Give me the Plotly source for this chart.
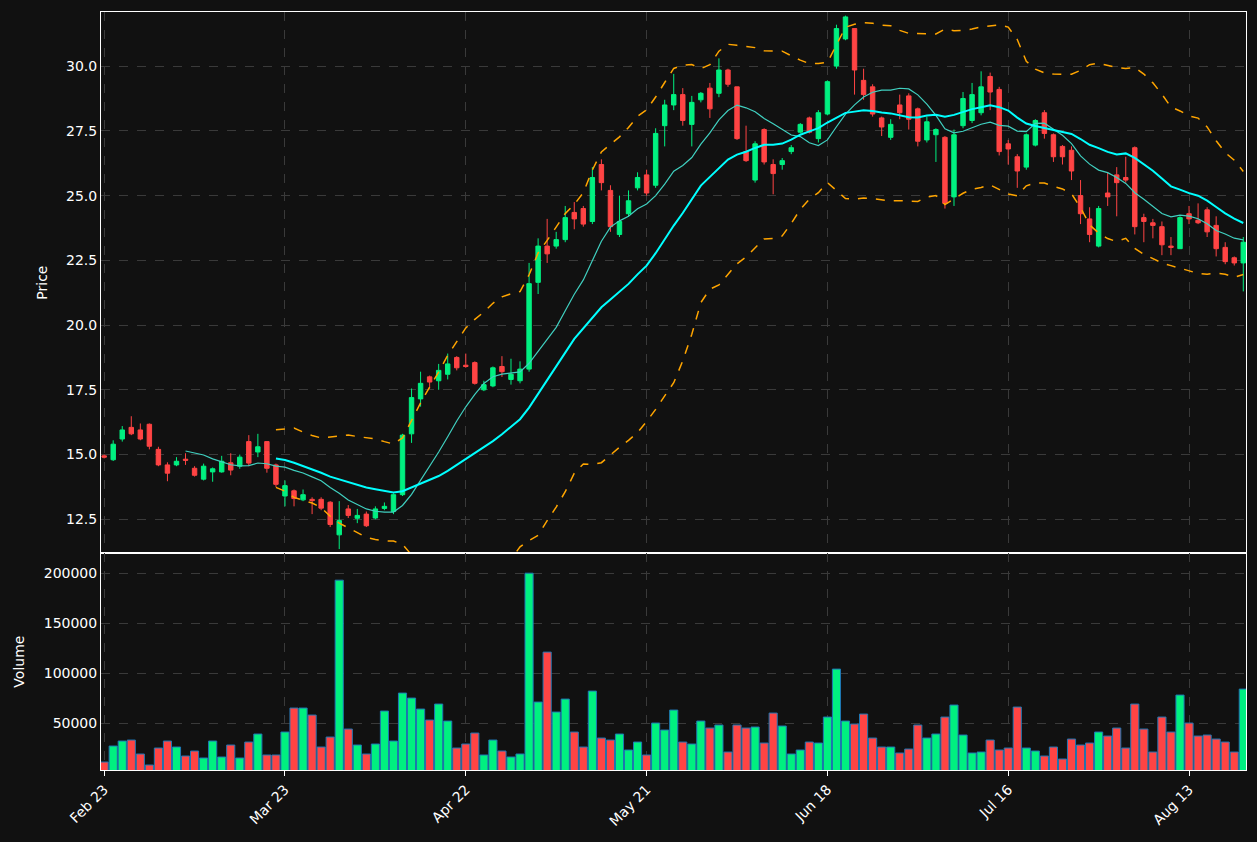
import pandas as pd
import plotly.graph_objects as go
from plotly.subplots import make_subplots

opens = [14.95, 14.8, 15.6, 16.05, 15.95, 16.17, 15.2, 14.6, 14.6, 14.82,
         14.47, 14.05, 14.33, 14.33, 14.68, 14.55, 15.5, 15.1, 15.5, 14.6,
         13.4, 13.6, 13.25, 13.27, 13.27, 13.16, 11.9, 12.9, 12.54, 12.7,
         12.55, 12.92, 12.8, 13.45, 15.8, 17.15, 18.0, 17.85, 18.1, 18.75,
         18.45, 18.55, 17.5, 17.65, 18.4, 17.9, 17.85, 18.3, 21.65, 23.05,
         23.05, 23.3, 24.35, 24.5, 24.0, 26.2, 25.2, 23.5, 24.3, 25.3,
         25.8, 25.4, 27.7, 28.5, 28.9, 27.75, 28.7, 29.15, 28.95, 29.85,
         29.2, 26.7, 25.6, 27.55, 26.2, 26.2, 26.7, 27.45, 28.0, 27.2,
         28.15, 30.0, 31.05, 31.45, 29.45, 29.2, 28.0, 27.25, 28.5, 28.85,
         28.35, 27.15, 27.35, 27.25, 24.95, 27.7, 27.9, 28.2, 29.6, 29.1,
         27.0, 26.5, 26.1, 26.95, 28.2, 27.35, 26.9, 26.75, 25.0, 24.1,
         23.05, 25.1, 25.8, 25.7, 26.85, 24.15, 23.95, 23.8, 23.05, 22.95,
         24.3, 24.05, 24.45, 23.85, 23.0, 22.6, 22.4]
closes = [14.9, 15.4, 15.95, 15.8, 15.6, 15.32, 14.6, 14.28, 14.74, 14.78,
          14.2, 14.55, 14.45, 14.74, 14.4, 14.9, 14.67, 15.3, 14.47, 13.85,
          13.8, 13.3, 13.45, 13.22, 12.93, 12.3, 12.45, 12.65, 12.65, 12.25,
          12.9, 13.0, 13.45, 15.75, 17.2, 17.75, 17.8, 18.25, 18.5, 18.35,
          18.4, 17.75, 17.7, 18.35, 18.2, 18.1, 18.3, 21.6, 23.05, 22.75,
          23.3, 24.15, 24.1, 23.9, 25.7, 25.5, 23.8, 24.0, 24.8, 25.7,
          25.1, 27.4, 28.5, 28.9, 27.9, 28.6, 28.95, 28.35, 29.85, 29.3,
          27.2, 26.35, 27.0, 26.3, 25.85, 26.35, 26.85, 27.75, 27.45, 28.2,
          29.4, 31.45, 31.9, 29.85, 28.9, 28.15, 27.65, 27.75, 28.2, 27.95,
          27.1, 27.85, 27.55, 24.7, 27.35, 28.75, 28.9, 29.2, 29.0, 26.7,
          26.8, 25.95, 27.35, 27.9, 27.4, 26.5, 26.5, 25.95, 24.3, 23.5,
          24.5, 24.95, 25.5, 25.6, 23.8, 24.0, 23.85, 23.1, 23.0, 24.15,
          24.1, 23.95, 23.6, 22.95, 22.45, 22.4, 23.2]
highs = [15.0, 15.55, 16.1, 16.48, 16.2, 16.2, 15.3, 14.7, 14.9, 15.05,
         14.55, 14.65, 14.5, 14.95, 15.05, 15.0, 15.75, 15.8, 15.5, 14.65,
         14.0, 13.65, 13.65, 13.35, 13.35, 13.2, 13.2, 13.05, 12.9, 12.8,
         13.0, 13.15, 13.5, 15.8, 17.55, 18.2, 18.05, 18.5, 18.9, 18.8,
         18.9, 18.6, 17.85, 18.4, 18.8, 18.7, 18.6, 22.4, 23.35, 24.1,
         23.6, 24.6, 24.75, 24.6, 26.1, 26.4, 25.4, 25.0, 25.2, 25.9,
         26.0, 27.6, 28.7, 29.7, 29.15, 28.85, 29.0, 29.35, 30.3, 29.9,
         29.2, 27.7, 27.1, 27.6, 26.4, 26.45, 26.95, 27.8, 28.05, 28.3,
         29.45, 31.6, 31.95, 31.45, 29.9, 29.3, 28.05, 27.95, 28.9, 28.95,
         28.4, 28.05, 27.6, 27.3, 27.55, 29.0, 29.35, 29.8, 29.75, 29.2,
         27.15, 26.6, 27.4, 27.95, 28.3, 27.4, 26.95, 26.9, 25.6, 24.55,
         24.6, 25.9, 26.1, 26.5, 26.9, 24.3, 24.1, 24.0, 23.4, 24.2,
         24.6, 24.7, 24.55, 24.2, 23.2, 22.65, 23.4]
lows = [14.85, 14.75, 15.5, 15.75, 15.55, 15.2, 14.55, 13.97, 14.55, 14.6,
        14.15, 14.0, 13.95, 14.3, 14.2, 14.45, 14.55, 14.9, 14.3, 13.75,
        13.0, 13.0, 13.2, 12.7, 12.85, 12.2, 11.35, 12.55, 12.35, 12.2,
        12.5, 12.85, 12.7, 13.4, 15.45, 16.85, 17.55, 17.5, 17.9, 18.25,
        18.35, 17.7, 17.45, 17.6, 18.0, 17.7, 17.75, 18.2, 21.2, 22.4,
        22.95, 23.2, 23.7, 23.8, 23.9, 25.2, 23.6, 23.4, 24.2, 25.2,
        25.0, 25.3, 26.9, 28.3, 27.7, 26.9, 28.6, 28.0, 28.8, 29.2,
        27.15, 26.3, 25.5, 26.2, 25.05, 26.0, 26.6, 27.4, 27.4, 27.05,
        28.1, 29.9, 31.0, 28.9, 28.7, 28.05, 27.3, 27.15, 27.95, 27.55,
        26.9, 27.05, 26.3, 24.5, 24.6, 27.6, 27.8, 28.1, 28.3, 26.55,
        26.2, 25.3, 26.0, 26.9, 27.2, 26.3, 26.2, 25.6, 23.9, 23.2,
        23.0, 24.6, 24.2, 25.5, 23.5, 23.2, 23.35, 22.7, 22.7, 22.95,
        23.9, 23.9, 23.4, 22.65, 22.35, 22.3, 21.3]
volumes = [11000, 27000, 32000, 33000, 19000, 8000, 25000, 32000, 26000, 17000,
           22000, 15000, 32000, 16000, 28000, 15000, 31000, 39000, 18000, 18000,
           41000, 65000, 65000, 58000, 26000, 36000, 193000, 44000, 28000, 19000,
           29000, 62000, 32000, 80000, 75000, 64000, 53000, 69000, 52000, 25000,
           29000, 40000, 18000, 33000, 22000, 16000, 19000, 200000, 71000, 121000,
           61000, 74000, 41000, 26000, 82000, 35000, 33000, 39000, 23000, 31000,
           18000, 50000, 43000, 63000, 31000, 29000, 52000, 45000, 48000, 21000,
           48000, 45000, 46000, 30000, 60000, 47000, 19000, 23000, 31000, 30000,
           56000, 104000, 52000, 49000, 59000, 35000, 26000, 26000, 20000, 24000,
           48000, 35000, 39000, 56000, 68000, 38000, 20000, 21000, 33000, 23000,
           25000, 66000, 25000, 22000, 17000, 26000, 14000, 34000, 28000, 30000,
           41000, 37000, 45000, 25000, 69000, 44000, 21000, 56000, 41000, 78000,
           50000, 37000, 38000, 34000, 31000, 21000, 84000]
tick_labels = ["Feb 23", "Mar 23", "Apr 22", "May 21", "Jun 18", "Jul 16", "Aug 13"]

df = pd.DataFrame({"open": opens, "high": highs, "low": lows, "close": closes, "volume": volumes})
x = list(range(len(df)))
ma10 = df["close"].rolling(10).mean()
ma20 = df["close"].rolling(20).mean()
sd20 = df["close"].rolling(20).std()
upper = ma20 + 2 * sd20
lower = ma20 - 2 * sd20

up_col, down_col = "#00f080", "#ff4444"
vol_colors = [up_col if c >= o else down_col for o, c in zip(opens, closes)]

fig = make_subplots(rows=2, cols=1, shared_xaxes=True, vertical_spacing=0,
                    row_heights=[0.714, 0.286])
fig.add_trace(go.Candlestick(x=x, open=df["open"], high=df["high"], low=df["low"], close=df["close"],
                             increasing=dict(line=dict(color=up_col, width=1), fillcolor=up_col),
                             decreasing=dict(line=dict(color=down_col, width=1), fillcolor=down_col),
                             whiskerwidth=0, showlegend=False), row=1, col=1)
fig.add_trace(go.Scatter(x=x, y=ma10, mode="lines", line=dict(color="#40d0c0", width=1.2), showlegend=False), row=1, col=1)
fig.add_trace(go.Scatter(x=x, y=ma20, mode="lines", line=dict(color="#00ffff", width=2), showlegend=False), row=1, col=1)
fig.add_trace(go.Scatter(x=x, y=upper, mode="lines", line=dict(color="#ffa500", width=1.5, dash="dash"), showlegend=False), row=1, col=1)
fig.add_trace(go.Scatter(x=x, y=lower, mode="lines", line=dict(color="#ffa500", width=1.5, dash="dash"), showlegend=False), row=1, col=1)
fig.add_trace(go.Bar(x=x, y=df["volume"], marker=dict(color=vol_colors, line=dict(color="#1f77b4", width=1)),
                     width=0.9, showlegend=False), row=2, col=1)

axis_style = dict(showline=True, linecolor="white", linewidth=1, mirror=True,
                  gridcolor="#3a3a3a", griddash="dash", zeroline=False,
                  tickfont=dict(color="white", size=14), color="white")
fig.update_xaxes(range=[-0.35, 126.3], tickvals=list(range(0, 127, 20)), ticktext=tick_labels,
                 rangeslider_visible=False, **axis_style)
fig.update_xaxes(tickangle=-45, ticks="outside", tickcolor="white", row=2, col=1)
fig.update_yaxes(title_font=dict(size=14), **axis_style)
fig.update_yaxes(title_text="Price", range=[11.19, 32.09], tickformat=".1f", dtick=2.5, row=1, col=1)
fig.update_yaxes(title_text="Volume", range=[3000, 220000], dtick=50000, tickformat="d", row=2, col=1)
fig.update_layout(width=1257, height=842, paper_bgcolor="#111111", plot_bgcolor="#111111",
                  font=dict(family="DejaVu Sans", color="white", size=14),
                  margin=dict(l=101, r=11, t=12, b=72), bargap=0.1)
fig.write_html("out.html", config={"displayModeBar": False},
               post_script="document.body.style.margin='0';document.body.style.background='#111111';")
